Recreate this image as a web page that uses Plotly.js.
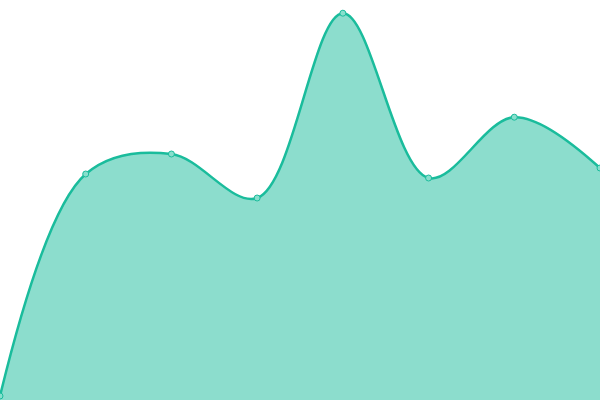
<!DOCTYPE html>
<html>
<head>
<meta charset="utf-8">
<script src="https://cdn.plot.ly/plotly-3.0.1.min.js"></script>
<style>
  html, body { margin: 0; padding: 0; background: #fff; }
  #chart { width: 600px; height: 400px; }
</style>
</head>
<body>
<div id="chart"></div>
<script>
// one series, eight points
const xValues = [0, 1, 2, 3, 4, 5, 6, 7];
const yValues = [1, 56.5, 61.5, 50.5, 96.7, 55.5, 70.7, 58];

const data = [
    {
        x: xValues,
        y: yValues,
        type: "scatter",
        mode: "lines+markers",
        fill: "tozeroy",
        fillcolor: "rgba(26,188,156,0.5)",
        line: { color: "#1abc9c", width: 2.5, shape: "spline", smoothing: 1 },
        marker: {
            size: 6,
            color: "#88dfcd",
            line: { color: "#1abc9c", width: 1 }
        },
        hoverinfo: "none"
    }
];

const layout = {
    width: 600,
    height: 400,
    margin: { l: 0, r: 0, t: 0, b: 0 },
    paper_bgcolor: "#fff",
    plot_bgcolor: "#fff",
    showlegend: false,
    xaxis: { range: [0, 7], visible: false, fixedrange: true },
    yaxis: { range: [0, 100], visible: false, fixedrange: true }
};

Plotly.newPlot("chart", data, layout, { displayModeBar: false, staticPlot: true });
</script>
</body>
</html>
